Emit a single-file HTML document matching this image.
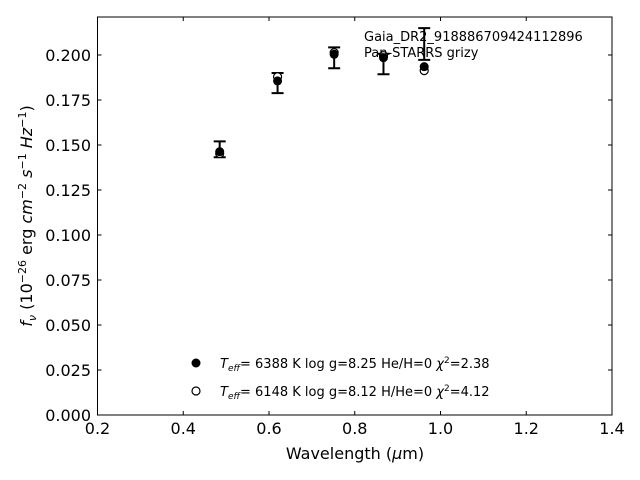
<!DOCTYPE html>
<html><head><meta charset="utf-8"><style>
body{margin:0;background:#fff}
svg{display:block;font-family:"DejaVu Sans","Liberation Sans",sans-serif}
</style></head><body>
<svg id="chart" width="640" height="480">
<rect x="0" y="0" width="640" height="480" fill="#fff"/>
<g id="plot"></g>
</svg>
<script>
const xTicks=[0.2,0.4,0.6,0.8,1.0,1.2,1.4];
const xTickLabels=["0.2","0.4","0.6","0.8","1.0","1.2","1.4"];
const yTicks=[0,0.025,0.05,0.075,0.1,0.125,0.15,0.175,0.2];
const yTickLabels=["0.000","0.025","0.050","0.075","0.100","0.125","0.150","0.175","0.200"];
const bands=["g","r","i","z","y"];
const wavelengths=[0.485,0.620,0.752,0.867,0.962];
const observed=[0.1476,0.1844,0.1984,0.1950,0.2061];
const obsErr=[0.0044,0.0056,0.0058,0.0057,0.0088];
const modelH=[0.1463,0.1856,0.2004,0.1985,0.1935];
const modelHe=[0.1453,0.1879,0.2013,0.1996,0.1913];

const L=97.5,R=612,T=17,B=415;
const X0=0.2,X1=1.4,Y0=0,Y1=0.2211;
function sx(v){return L+(v-X0)/(X1-X0)*(R-L);}
function sy(v){return B-(v-Y0)/(Y1-Y0)*(B-T);}
const NS="http://www.w3.org/2000/svg";
const g=document.getElementById('plot');
function mk(tag,attrs,parent){const e=document.createElementNS(NS,tag);for(const k in attrs)e.setAttribute(k,attrs[k]);(parent||g).appendChild(e);return e;}

const frame=mk('rect',{x:L,y:T,width:R-L,height:B-T,fill:'none',stroke:'#000','stroke-width':1});



xTicks.forEach((v,i)=>{
  const x=sx(v);
  const t1=mk('line',{x1:x,x2:x,y1:B,y2:B-4,stroke:'#000'});
  
  
  const t2=mk('line',{x1:x,x2:x,y1:T,y2:T+4,stroke:'#000'});
  
  
  const lb=mk('text',{x:x,y:434,'text-anchor':'middle','font-size':16});
  lb.textContent=xTickLabels[i];
  
  
});
yTicks.forEach((v,i)=>{
  const y=sy(v);
  const t1=mk('line',{x1:L,x2:L+4,y1:y,y2:y,stroke:'#000'});
  
  
  const t2=mk('line',{x1:R,x2:R-4,y1:y,y2:y,stroke:'#000'});
  
  
  const lb=mk('text',{x:91,y:y+6,'text-anchor':'end','font-size':16});
  lb.textContent=yTickLabels[i];
  
  
});

wavelengths.forEach((w,i)=>{
  const x=sx(w),yt=sy(observed[i]+obsErr[i]),yb=sy(observed[i]-obsErr[i]);
  const eb=mk('path',{d:`M${x},${yt}V${yb}M${x-6},${yt}H${x+6}M${x-6},${yb}H${x+6}`,stroke:'#000','stroke-width':2,fill:'none'});
  
  
});
wavelengths.forEach((w,i)=>{
  const c=mk('circle',{cx:sx(w),cy:sy(modelHe[i]),r:4,fill:'#fff',stroke:'#000','stroke-width':1.2});
  
  
});
wavelengths.forEach((w,i)=>{
  const c=mk('circle',{cx:sx(w),cy:sy(modelH[i]),r:4.5,fill:'#000'});
  
  
});
</script>
<svg width="640" height="480" style="position:absolute;left:0;top:0" font-family="DejaVu Sans, Liberation Sans, sans-serif">
<text x="364" y="41" font-size="13">Gaia_DR2_918886709424112896</text>
<text x="364" y="57" font-size="13">Pan-STARRS grizy</text>
<g font-size="13">
<circle cx="196" cy="363" r="4.5" fill="#000"/>
<text x="220" y="368"><tspan font-style="italic">T</tspan><tspan font-style="italic" font-size="9" dy="3">eff</tspan><tspan dy="-3">=  6388 K  log g=8.25  He/H=0  </tspan><tspan font-style="italic">χ</tspan><tspan font-size="9" dy="-5">2</tspan><tspan dy="5">=2.38</tspan></text>
<circle cx="196" cy="391" r="4" fill="#fff" stroke="#000" stroke-width="1.2"/>
<text x="220" y="396"><tspan font-style="italic">T</tspan><tspan font-style="italic" font-size="9" dy="3">eff</tspan><tspan dy="-3">=  6148 K  log g=8.12  H/He=0  </tspan><tspan font-style="italic">χ</tspan><tspan font-size="9" dy="-5">2</tspan><tspan dy="5">=4.12</tspan></text>
</g>
<text x="355" y="459" font-size="16" text-anchor="middle">Wavelength (<tspan font-style="italic">μ</tspan>m)</text>
<text transform="translate(32,216) rotate(-90)" font-size="16" text-anchor="middle"><tspan font-style="italic">f</tspan><tspan font-style="italic" font-size="11" dy="4">ν</tspan><tspan dy="-4"> (10</tspan><tspan font-size="11" dy="-6">−26</tspan><tspan dy="6"> erg </tspan><tspan font-style="italic">cm</tspan><tspan font-size="11" dy="-6">−2</tspan><tspan dy="6"> </tspan><tspan font-style="italic">s</tspan><tspan font-size="11" dy="-6">−1</tspan><tspan dy="6"> </tspan><tspan font-style="italic">Hz</tspan><tspan font-size="11" dy="-6">−1</tspan><tspan dy="6">)</tspan></text>
</svg>
</body></html>
